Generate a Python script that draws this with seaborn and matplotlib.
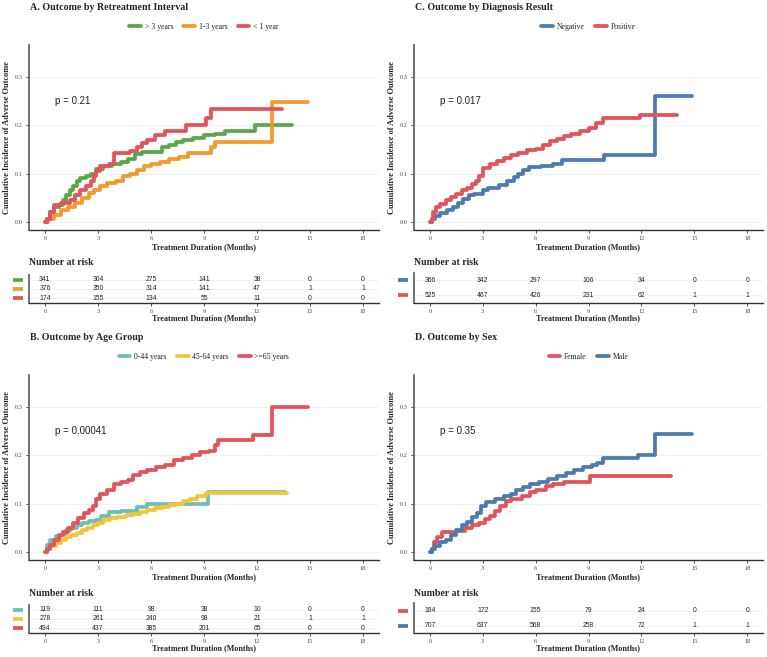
import matplotlib
matplotlib.use('Agg')
import matplotlib.pyplot as plt
from matplotlib.lines import Line2D
import seaborn as sns
import numpy as np
import pandas as pd

# time points of the risk table
months = [0, 3, 6, 9, 12, 15, 18]

# A. Outcome by Retreatment Interval
a_groups = ['> 3 years', '1-3 years', '< 1 year']
a_colors = ['#5AA64B', '#F39A2B', '#E4525A']
a_gt3_t = [0, 0.1, 0.3, 0.5, 0.8, 1.0, 1.2, 1.4, 1.6, 1.8, 2.0, 2.3, 2.6, 2.9, 3.3, 3.8, 4.3, 4.7, 5.1,
           5.5, 6.0, 6.6, 7.0, 7.4, 7.8, 8.4, 9.0, 9.6, 10.2, 11.9, 14.0]
a_gt3_v = [0, 0.005, 0.02, 0.03, 0.035, 0.045, 0.055, 0.065, 0.075, 0.085, 0.09, 0.095, 0.1, 0.11, 0.115,
           0.12, 0.125, 0.13, 0.14, 0.145, 0.145, 0.155, 0.16, 0.165, 0.17, 0.175, 0.18, 0.182, 0.188, 0.2, 0.2]
a_13_t = [0, 0.2, 0.5, 0.9, 1.3, 1.7, 2.1, 2.5, 2.8, 3.1, 3.5, 4.0, 4.4, 4.8, 5.2, 5.6, 6.0, 6.5, 7.0,
          7.6, 8.1, 9.4, 9.6, 12.86, 14.9]
a_13_v = [0, 0.005, 0.015, 0.025, 0.03, 0.04, 0.05, 0.06, 0.065, 0.075, 0.08, 0.085, 0.095, 0.1, 0.108,
          0.115, 0.12, 0.125, 0.13, 0.135, 0.142, 0.155, 0.165, 0.249, 0.249]
a_lt1_t = [0, 0.1, 0.3, 0.5, 0.9, 1.4, 1.7, 2.0, 2.3, 2.6, 2.8, 2.9, 3.1, 3.6, 3.9, 4.8, 5.2, 5.5, 5.8,
           6.2, 6.8, 8.0, 9.1, 9.4, 13.4]
a_lt1_v = [0, 0.005, 0.02, 0.035, 0.04, 0.045, 0.055, 0.065, 0.075, 0.085, 0.095, 0.105, 0.115, 0.12,
           0.143, 0.148, 0.155, 0.163, 0.17, 0.18, 0.188, 0.2, 0.215, 0.235, 0.235]
a_risk = [[341, 304, 275, 141, 38, 0, 0],
          [376, 350, 314, 141, 47, 1, 1],
          [174, 155, 134, 55, 11, 0, 0]]
a_p = 'p = 0.21'

# B. Outcome by Age Group
b_groups = ['0-44 years', '45-64 years', '>=65 years']
b_colors = ['#6DBFB5', '#F2C53A', '#E4525A']
b_young_t = [0, 0.1, 0.3, 0.6, 0.9, 1.2, 1.5, 1.8, 2.1, 2.5, 2.9, 3.2, 3.6, 4.3, 5.2, 5.8, 9.2, 13.6]
b_young_v = [0, 0.015, 0.025, 0.032, 0.035, 0.045, 0.05, 0.056, 0.06, 0.063, 0.066, 0.075, 0.082,
             0.085, 0.093, 0.1, 0.125, 0.125]
b_mid_t = [0, 0.1, 0.3, 0.6, 0.9, 1.2, 1.5, 1.8, 2.1, 2.4, 2.7, 3.0, 3.3, 3.7, 4.1, 4.6, 5.0, 5.4, 5.8,
           6.2, 6.6, 7.0, 7.4, 7.8, 8.2, 8.6, 9.1, 13.7]
b_mid_v = [0, 0.005, 0.012, 0.018, 0.025, 0.03, 0.035, 0.04, 0.045, 0.05, 0.055, 0.06, 0.065, 0.07,
           0.073, 0.076, 0.078, 0.082, 0.086, 0.09, 0.094, 0.097, 0.1, 0.105, 0.11, 0.115, 0.123, 0.123]
b_old_t = [0, 0.1, 0.3, 0.5, 0.8, 1.0, 1.3, 1.6, 1.9, 2.2, 2.5, 2.7, 2.9, 3.1, 3.5, 3.9, 4.3, 4.7, 5.0,
           5.4, 5.8, 6.3, 6.8, 7.3, 7.8, 8.3, 8.8, 9.3, 9.6, 9.8, 11.8, 12.86, 14.9]
b_old_v = [0, 0.005, 0.015, 0.025, 0.035, 0.042, 0.05, 0.06, 0.07, 0.08, 0.087, 0.095, 0.11, 0.12,
           0.128, 0.14, 0.145, 0.15, 0.16, 0.165, 0.17, 0.175, 0.18, 0.19, 0.195, 0.2, 0.207, 0.21,
           0.222, 0.233, 0.242, 0.3, 0.3]
b_risk = [[119, 111, 98, 38, 10, 0, 0],
          [278, 261, 240, 98, 21, 1, 1],
          [494, 437, 385, 201, 65, 0, 0]]
b_p = 'p = 0.00041'

# C. Outcome by Diagnosis Result
c_groups = ['Negative', 'Positive']
c_colors = ['#4B7BAF', '#E4525A']
c_neg_t = [0, 0.1, 0.3, 0.6, 1.0, 1.3, 1.6, 1.9, 2.2, 2.5, 3.0, 3.3, 3.9, 4.4, 4.8, 5.0, 5.3, 5.6,
           6.3, 7.0, 7.5, 9.9, 12.8, 14.9]
c_neg_v = [0, 0.005, 0.012, 0.018, 0.025, 0.03, 0.04, 0.048, 0.055, 0.058, 0.065, 0.07, 0.077, 0.085,
           0.092, 0.1, 0.108, 0.113, 0.115, 0.12, 0.128, 0.138, 0.261, 0.261]
c_pos_t = [0, 0.1, 0.2, 0.35, 0.6, 0.9, 1.2, 1.5, 1.8, 2.1, 2.4, 2.6, 2.8, 3.0, 3.4, 3.8, 4.2, 4.6,
           5.0, 5.5, 6.0, 6.4, 6.8, 7.2, 7.6, 8.0, 8.5, 9.0, 9.4, 9.8, 11.9, 14.0]
c_pos_v = [0, 0.005, 0.02, 0.03, 0.038, 0.045, 0.052, 0.058, 0.065, 0.07, 0.078, 0.085, 0.095, 0.112,
           0.12, 0.126, 0.132, 0.138, 0.142, 0.15, 0.152, 0.16, 0.167, 0.172, 0.178, 0.182, 0.188,
           0.195, 0.205, 0.215, 0.222, 0.222]
c_risk = [[366, 342, 297, 106, 34, 0, 0],
          [525, 467, 426, 231, 62, 1, 1]]
c_p = 'p = 0.017'

# D. Outcome by Sex
d_groups = ['Female', 'Male']
d_colors = ['#E4525A', '#4B7BAF']
d_f_t = [0, 0.1, 0.25, 0.4, 0.7, 1.5, 2.0, 2.4, 2.8, 3.1, 3.4, 3.7, 4.0, 4.3, 4.6, 5.2, 5.7, 6.0, 6.6,
         7.0, 7.6, 9.1, 13.7]
d_f_v = [0, 0.005, 0.02, 0.03, 0.042, 0.044, 0.05, 0.055, 0.06, 0.068, 0.075, 0.085, 0.095, 0.105,
         0.11, 0.115, 0.125, 0.128, 0.137, 0.14, 0.145, 0.157, 0.157]
d_m_t = [0, 0.1, 0.3, 0.6, 0.9, 1.2, 1.5, 1.8, 2.1, 2.4, 2.7, 2.9, 3.2, 3.7, 4.2, 4.6, 4.9, 5.3, 5.7,
         6.2, 6.7, 7.2, 7.7, 8.2, 8.7, 9.2, 9.5, 9.8, 11.8, 12.8, 14.9]
d_m_v = [0, 0.005, 0.012, 0.02, 0.025, 0.035, 0.045, 0.055, 0.062, 0.072, 0.08, 0.095, 0.104, 0.11,
         0.115, 0.12, 0.128, 0.135, 0.14, 0.145, 0.152, 0.158, 0.164, 0.17, 0.177, 0.18, 0.185, 0.194,
         0.2, 0.244, 0.244]
d_risk = [[184, 172, 155, 79, 24, 0, 0],
          [707, 637, 568, 258, 72, 1, 1]]
d_p = 'p = 0.35'

W, H = 767, 657
SERIF = 'Liberation Serif'
SANS = 'Liberation Sans'

sns.set_theme(style='white')
plt.rcParams['font.family'] = [SERIF, 'DejaVu Serif']

fig = plt.figure(figsize=(W / 100, H / 100), dpi=100)


def rect(l, t, r, b):
    return [l / W, 1 - b / H, (r - l) / W, (b - t) / H]


def style_axis(ax):
    for s in ['top', 'right']:
        ax.spines[s].set_visible(False)
    ax.spines['left'].set_color('#666666')
    ax.spines['left'].set_linewidth(1.3)
    ax.spines['bottom'].set_color('#333333')
    ax.spines['bottom'].set_linewidth(1.0)
    ax.set_xlim(-0.9, 18.9)
    ax.set_xticks(months)
    ax.tick_params(axis='both', length=2.5, width=0.6, color='#333333', labelsize=4.6,
                   labelcolor='#4D4D4D', pad=2)
    ax.tick_params(axis='x', bottom=True)
    ax.tick_params(axis='y', left=True)


def panel(left, right, top, title, groups, colors, curves, risk, ptxt):
    # top = pixel row of the panel title
    main_t, main_b = top + 38, top + 223
    n = len(groups)
    tab_b = top + 296
    tab_t = tab_b - (28 if n == 3 else 30)

    fig.text(left / W + 0.001, 1 - top / H, title, fontsize=7.2, fontweight='bold',
             ha='left', va='center', family=SERIF)

    ax = fig.add_axes(rect(left, main_t, right, main_b))
    frames = []
    for g, (tt, vv) in zip(groups, curves):
        frames.append(pd.DataFrame({'t': tt, 'v': vv, 'group': g}))
    df = pd.concat(frames, ignore_index=True)
    sns.lineplot(data=df, x='t', y='v', hue='group', hue_order=groups, palette=colors,
                 estimator=None, drawstyle='steps-post', linewidth=2.7, legend=False, ax=ax)
    style_axis(ax)
    ax.set_ylim(-0.017, 0.367)
    ax.set_yticks([0, 0.1, 0.2, 0.3])
    ax.set_yticklabels(['0.0', '0.1', '0.2', '0.3'])
    ax.grid(axis='y', color='#F0F0F0', lw=0.6)
    ax.set_axisbelow(True)
    ax.set_xlabel('Treatment Duration (Months)', fontsize=5.9, fontweight='bold', family=SERIF)
    ax.xaxis.label.set_va('center')
    ax.xaxis.set_label_coords(0.5, -17 / (main_b - main_t))
    ax.set_ylabel('Cumulative Incidence of Adverse Outcome', fontsize=6.0, fontweight='bold',
                  family=SERIF)
    ax.yaxis.label.set_va('center')
    ax.yaxis.set_label_coords(-22 / (right - left), 0.5)
    ax.text(0.55, 0.25, ptxt, fontsize=7, family=SANS, va='center', ha='left', color='#222222')

    handles = [Line2D([0], [0], color=c, lw=2.7) for c in colors]
    ax.legend(handles, groups, loc='center', bbox_to_anchor=(0.5, 1 + 18 / (main_b - main_t)),
              ncol=n, frameon=False, handlelength=1.5, columnspacing=1.3,
              handletextpad=0.5, prop={'family': SERIF, 'size': 5.6})

    fig.text(left / W, 1 - (top + 256) / H, 'Number at risk', fontsize=7, fontweight='bold',
             ha='left', va='center', family=SERIF)

    tab = fig.add_axes(rect(left, tab_t, right, tab_b))
    style_axis(tab)
    tab.set_ylim(0.5, n + 0.5)
    tab.set_yticks([])
    tab.tick_params(axis='y', left=False)
    for i in range(n):
        y = n - i
        tab.axhline(y, color='#F0F0F0', lw=0.6, zorder=0)
        for m, val in zip(months, risk[i]):
            tab.text(m, y, str(val), ha='center', va='center', fontsize=4.9, family=SANS,
                     color='#222222')
        tab.plot([-16 / (right - left), -6 / (right - left)], [y, y], color=colors[i], lw=2.7,
                 transform=tab.get_yaxis_transform(), clip_on=False, solid_capstyle='butt')
    tab.set_xlabel('Treatment Duration (Months)', fontsize=5.9, fontweight='bold', family=SERIF)
    tab.xaxis.label.set_va('center')
    tab.xaxis.set_label_coords(0.5, -15 / (tab_b - tab_t))


panel(29, 379, 7, 'A. Outcome by Retreatment Interval', a_groups, a_colors,
      [(a_gt3_t, a_gt3_v), (a_13_t, a_13_v), (a_lt1_t, a_lt1_v)], a_risk, a_p)
panel(29, 379, 337, 'B. Outcome by Age Group', b_groups, b_colors,
      [(b_young_t, b_young_v), (b_mid_t, b_mid_v), (b_old_t, b_old_v)], b_risk, b_p)
panel(414, 763, 7, 'C. Outcome by Diagnosis Result', c_groups, c_colors,
      [(c_neg_t, c_neg_v), (c_pos_t, c_pos_v)], c_risk, c_p)
panel(414, 763, 337, 'D. Outcome by Sex', d_groups, d_colors,
      [(d_f_t, d_f_v), (d_m_t, d_m_v)], d_risk, d_p)

fig.savefig('out.png', dpi=100, facecolor='white')
